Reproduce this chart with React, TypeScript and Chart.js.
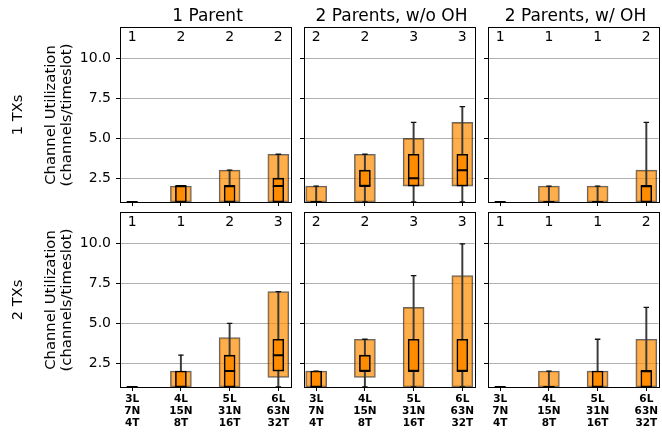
import React, { useEffect, useRef } from "react";
import { Chart, registerables } from "chart.js";

Chart.register(...registerables);

// ---------- data ----------
const categories = [
  ["3L", "7N", "4T"],
  ["4L", "15N", "8T"],
  ["5L", "31N", "16T"],
  ["6L", "63N", "32T"],
];
const columnTitles = ["1 Parent", "2 Parents, w/o OH", "2 Parents, w/ OH"];
const rowTitles = ["1 TXs", "2 TXs"];
const yAxisTitle = ["Channel Utilization", "(channels/timeslot)"];
const yTickValues = [2.5, 5, 7.5, 10];

// panels in row-major order: [1TX: 1P, 2P w/o OH, 2P w/ OH], [2TX: ...]
const barLow = [
  [1, 1, 1, 1],
  [1, 1, 2, 2],
  [1, 1, 1, 1],
  [1, 1, 1, 1.6],
  [1, 1.6, 1, 1],
  [1, 1, 1, 1],
];
const barHigh = [
  [1, 2, 3, 4],
  [2, 4, 5, 6],
  [1, 2, 2, 3],
  [1, 2, 4.1, 7],
  [2, 4, 6, 8],
  [1, 2, 2, 4],
];
const boxQ1 = [
  [1, 1, 1, 1],
  [1, 2, 2, 2],
  [1, 1, 1, 1],
  [1, 1, 1, 2],
  [1, 2, 2, 2],
  [1, 1, 1, 1],
];
const boxQ3 = [
  [1, 2, 2, 2.5],
  [1, 3, 4, 4],
  [1, 1, 1, 2],
  [1, 2, 3, 4],
  [2, 3, 4, 4],
  [1, 1, 2, 2],
];
const boxMedian = [
  [1, 2, 2, 2],
  [1, 2, 2.5, 3],
  [1, 1, 1, 2],
  [1, 1, 2, 3],
  [1, 2, 2, 2],
  [1, 1, 1, 2],
];
const whiskerLow = [
  [1, 1, 1, 1],
  [1, 1, 1, 1],
  [1, 1, 1, 1],
  [1, 1, 1, 1],
  [1, 1, 1, 1],
  [1, 1, 1, 1],
];
const whiskerHigh = [
  [1, 2, 3, 4],
  [2, 4, 6, 7],
  [1, 2, 2, 6],
  [1, 3, 5, 7],
  [2, 4, 8, 10],
  [1, 2, 4, 6],
];
const topCounts = [
  [1, 2, 2, 2],
  [2, 2, 3, 3],
  [1, 1, 1, 2],
  [1, 1, 2, 3],
  [2, 2, 3, 3],
  [1, 1, 1, 2],
];

// ---------- layout ----------
const PANEL_LEFT = [120, 304, 488];
const PANEL_TOP = [27, 212];
const PANEL_W = 175;
const PANEL_H = 175;
const PAD_TOP = 20;
const PAD_RIGHT = 3;
const FONT = "'DejaVu Sans', sans-serif";

Chart.defaults.font.family = FONT;

function Panel({ idx }: { idx: number }) {
  const ref = useRef<HTMLCanvasElement>(null);
  const r = Math.floor(idx / 3);
  const c = idx % 3;
  const yW = c === 0 ? 120 : 8;
  const xH = r === 1 ? 45 : 20;
  const width = yW + PANEL_W + PAD_RIGHT;
  const height = PAD_TOP + PANEL_H + xH;

  useEffect(() => {
    const idxs = categories.map((_, i) => i);
    const countsPlugin = {
      id: "counts" + idx,
      afterDatasetsDraw(chart: any) {
        const { ctx, scales } = chart;
        ctx.save();
        ctx.fillStyle = "#000";
        ctx.font = `14px ${FONT}`;
        ctx.textAlign = "center";
        ctx.textBaseline = "middle";
        topCounts[idx].forEach((n, i) => {
          ctx.fillText(String(n), scales.x.getPixelForValue(i), scales.y.getPixelForValue(11.35));
        });
        ctx.restore();
      },
    };
    const framePlugin = {
      id: "frame" + idx,
      afterDraw(chart: any) {
        const { ctx, chartArea } = chart;
        ctx.save();
        ctx.strokeStyle = "#000";
        ctx.lineWidth = 1;
        ctx.strokeRect(
          Math.round(chartArea.left) + 0.5,
          Math.round(chartArea.top) + 0.5,
          Math.round(chartArea.right - chartArea.left),
          Math.round(chartArea.bottom - chartArea.top)
        );
        ctx.restore();
      },
    };
    const caps: any[] = [];
    idxs.forEach((i) => {
      caps.push({ x: i, y: whiskerLow[idx][i] });
      caps.push({ x: i, y: whiskerHigh[idx][i] });
    });
    const chart = new Chart(ref.current!, {
      type: "bar",
      data: {
        datasets: [
          {
            type: "bar",
            label: "range",
            data: idxs.map((i) => ({ x: i, y: [barLow[idx][i], barHigh[idx][i]] })),
            backgroundColor: "rgba(255,140,0,0.7)",
            borderColor: "rgba(40,40,40,0.7)",
            borderWidth: 1.2,
            borderSkipped: false,
            barThickness: 21,
            grouped: false,
            order: 4,
          } as any,
          {
            type: "bar",
            label: "whisker",
            data: idxs.map((i) => ({ x: i, y: [whiskerLow[idx][i], whiskerHigh[idx][i]] })),
            backgroundColor: "#3a3a3a",
            borderWidth: 0,
            barThickness: 1.3,
            grouped: false,
            order: 3,
          } as any,
          {
            type: "bar",
            label: "box",
            data: idxs.map((i) => ({ x: i, y: [boxQ1[idx][i], boxQ3[idx][i]] })),
            backgroundColor: "#ff8c00",
            borderColor: "#000",
            borderWidth: 1.6,
            borderSkipped: false,
            barThickness: 11,
            grouped: false,
            order: 2,
          } as any,
          {
            type: "scatter",
            label: "caps",
            data: caps,
            pointStyle: "line",
            pointRadius: 2.75,
            pointBorderColor: "#111",
            pointBorderWidth: 1.3,
            showLine: false,
            order: 1,
          } as any,
          {
            type: "scatter",
            label: "median",
            data: idxs.map((i) => ({ x: i, y: boxMedian[idx][i] })),
            pointStyle: "line",
            pointRadius: 5.5,
            pointBorderColor: "#000",
            pointBorderWidth: 2,
            showLine: false,
            order: 0,
          } as any,
        ],
      },
      options: {
        responsive: false,
        animation: false,
        events: [],
        layout: { padding: { top: PAD_TOP, right: PAD_RIGHT, left: 0, bottom: 0 } },
        plugins: { legend: { display: false }, tooltip: { enabled: false }, title: { display: false } },
        scales: {
          x: {
            type: "linear",
            min: -0.25,
            max: 3.25,
            offset: false,
            afterBuildTicks: (s: any) => {
              s.ticks = idxs.map((i) => ({ value: i }));
            },
            afterFit: (s: any) => {
              s.height = xH;
              s.paddingLeft = 0;
              s.paddingRight = 0;
            },
            grid: {
              offset: false,
              drawOnChartArea: false,
              drawTicks: true,
              tickLength: 4,
              tickColor: "#000",
              tickWidth: 1,
            },
            border: { display: true, color: "#000", width: 1 },
            ticks: {
              display: r === 1,
              autoSkip: false,
              maxRotation: 0,
              minRotation: 0,
              padding: 2,
              color: "#000",
              font: { family: FONT, size: 10.5, weight: "bold", lineHeight: 1.16 },
              callback: (v: any) => categories[Math.round(Number(v))],
            },
          } as any,
          y: {
            type: "linear",
            min: 1,
            max: 12,
            afterBuildTicks: (s: any) => {
              s.ticks = yTickValues.map((v) => ({ value: v }));
            },
            afterFit: (s: any) => {
              s.width = yW;
              s.paddingTop = 0;
              s.paddingBottom = 0;
            },
            grid: {
              color: "#b0b0b0",
              lineWidth: 1,
              drawTicks: true,
              tickLength: 4,
              tickColor: "#000",
              tickWidth: 1,
            },
            border: { display: true, color: "#000", width: 1 },
            ticks: {
              display: c === 0,
              padding: 5,
              color: "#000",
              font: { family: FONT, size: 14 },
              callback: (v: any) => Number(v).toFixed(1),
            },
          } as any,
        },
      },
      plugins: [countsPlugin, framePlugin],
    });
    return () => chart.destroy();
  }, []);

  return (
    <canvas
      ref={ref}
      width={width}
      height={height}
      style={{
        position: "absolute",
        left: PANEL_LEFT[c] - yW,
        top: PANEL_TOP[r] - PAD_TOP,
        width,
        height,
      }}
    />
  );
}

export default function App() {
  return (
    <div
      style={{
        position: "absolute",
        left: 0,
        top: 0,
        width: 662,
        height: 432,
        overflow: "hidden",
        background: "#fff",
        fontFamily: FONT,
        color: "#000",
      }}
    >
      {[0, 1, 2, 3, 4, 5].map((i) => (
        <Panel key={i} idx={i} />
      ))}
      {columnTitles.map((t, c) => (
        <div
          key={"ct" + c}
          style={{
            position: "absolute",
            left: PANEL_LEFT[c],
            width: PANEL_W,
            top: 5,
            lineHeight: "20px",
            fontSize: 17,
            textAlign: "center",
            whiteSpace: "nowrap",
          }}
        >
          {t}
        </div>
      ))}
      {rowTitles.map((t, r) => (
        <div
          key={"rt" + r}
          style={{
            position: "absolute",
            left: 16,
            top: PANEL_TOP[r] + PANEL_H / 2,
            fontSize: 14.7,
            lineHeight: "17px",
            whiteSpace: "nowrap",
            transform: "translate(-50%, -50%) rotate(-90deg)",
          }}
        >
          {t}
        </div>
      ))}
      {rowTitles.map((_, r) => (
        <div
          key={"yt" + r}
          style={{
            position: "absolute",
            left: 57.5,
            top: PANEL_TOP[r] + PANEL_H / 2,
            fontSize: 14.8,
            lineHeight: "16.4px",
            whiteSpace: "nowrap",
            textAlign: "center",
            transform: "translate(-50%, -50%) rotate(-90deg)",
          }}
        >
          {yAxisTitle.map((l, k) => (
            <div key={k}>{l}</div>
          ))}
        </div>
      ))}
    </div>
  );
}
